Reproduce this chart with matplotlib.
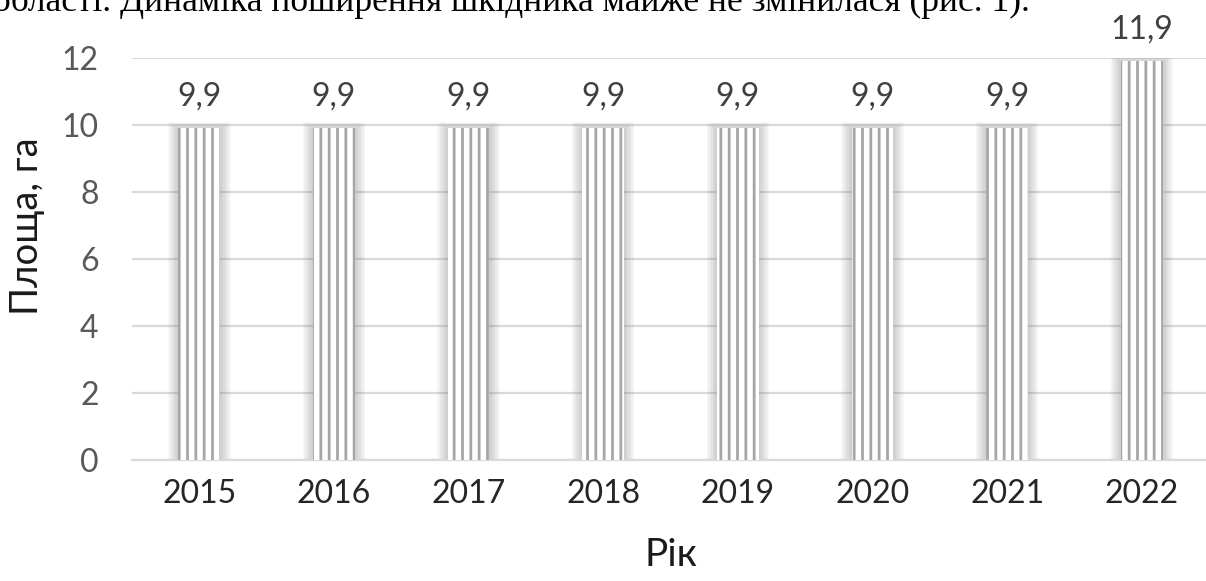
import matplotlib.pyplot as plt
import numpy as np

years = ['2015', '2016', '2017', '2018', '2019', '2020', '2021', '2022']
area = [9.9, 9.9, 9.9, 9.9, 9.9, 9.9, 9.9, 11.9]
labels = ['9,9', '9,9', '9,9', '9,9', '9,9', '9,9', '9,9', '11,9']
yticks = [0, 2, 4, 6, 8, 10, 12]

plt.rcParams['font.family'] = ['Lato', 'DejaVu Sans']
plt.rcParams['hatch.linewidth'] = 2.0

fig = plt.figure(figsize=(12.06, 5.81), dpi=100)
ax = fig.add_axes([132/1206, 1 - 460/581, 1077/1206, 402/581])

x = np.arange(len(years))
bw = 0.31

# soft glow round each bar
for i in range(1, 8):
    ax.bar(x, np.array(area) + i * 0.025, width=bw + i * 0.022,
           color='#7f7f7f', alpha=0.06, linewidth=0, zorder=2)

ax.bar(x, area, width=bw, color='white', zorder=3)
ax.bar(x, area, width=bw, facecolor='none', edgecolor='#a6a6a6',
       hatch='||', linewidth=0, zorder=4)

for xi, v, t in zip(x, area, labels):
    ax.text(xi, v + 0.5, t, ha='center', va='bottom', fontsize=23, color='#404040')

ax.set_xlim(-0.5, 7.5)
ax.set_ylim(0, 12)
ax.set_yticks(yticks)
ax.set_xticks(x)
ax.set_xticklabels(years)
ax.grid(axis='y', color='#d9d9d9', linewidth=1.6, zorder=0)
ax.set_axisbelow(True)
for s in ['top', 'right', 'left']:
    ax.spines[s].set_visible(False)
ax.spines['bottom'].set_color('#d9d9d9')
ax.spines['bottom'].set_linewidth(1.6)
ax.tick_params(axis='both', length=0)
ax.tick_params(axis='y', labelsize=23, labelcolor='#595959', pad=24)
ax.tick_params(axis='x', labelsize=23, labelcolor='#262626', pad=14)

fig.text(27/1206, 1 - 226/581, 'Площа, га', rotation=90, ha='center', va='center',
         fontsize=27.5, color='#1a1a1a')
fig.text(671/1206, 1 - 555/581, 'Рік', ha='center', va='center',
         fontsize=28, color='#1a1a1a')

fig.text(-0.006, 1 - 11/581, 'області. Динаміка поширення шкідника майже не змінилася (рис. 1).',
         ha='left', va='baseline', fontsize=25.5, color='black',
         family=['Liberation Serif', 'DejaVu Serif'])

fig.savefig('out.png', dpi=100)
